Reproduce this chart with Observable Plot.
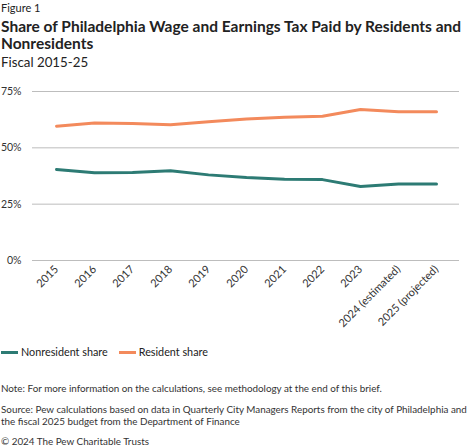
<!DOCTYPE html>
<html>
<head>
<meta charset="utf-8">
<script src="https://cdn.jsdelivr.net/npm/d3@7"></script>
<script src="https://cdn.jsdelivr.net/npm/@observablehq/plot@0.6"></script>
<style>
  body { margin: 0; background: #fff; font-family: Lato, "Noto Sans", sans-serif; color: #222; }
  #wrap { position: relative; width: 474px; height: 447px; overflow: hidden; }
  .abs { position: absolute; left: 1px; white-space: nowrap; }
  #fig { top: 1px; font-size: 11px; line-height: 14px; }
  #title { top: 18px; font-size: 15.5px; line-height: 17px; font-weight: bold; white-space: normal; width: 470px; }
  #sub { top: 54px; font-size: 13.3px; line-height: 16px; }
  #chart { position: absolute; left: 0; top: 80px; }
  #legend { top: 345px; font-size: 10.8px; line-height: 14px; display: flex; gap: 0; }
  .item { display: flex; align-items: center; margin-right: 11px; }
  .sw { width: 17px; height: 3px; margin-right: 3px; display: inline-block; }
  .note { font-size: 9.85px; line-height: 12px; color: #333; white-space: nowrap; }
  #note { top: 382px; }
  #source { top: 403px; }
  #copy { top: 435px; }
</style>
</head>
<body>
<div id="wrap">
  <div id="fig" class="abs">Figure 1</div>
  <div id="title" class="abs">Share of Philadelphia Wage and Earnings Tax Paid by Residents and Nonresidents</div>
  <div id="sub" class="abs">Fiscal 2015-25</div>
  <div id="chart"></div>
  <div id="legend" class="abs"></div>
  <div id="note" class="abs note">Note: For more information on the calculations, see methodology at the end of this brief.</div>
  <div id="source" class="abs note">Source: Pew calculations based on data in Quarterly City Managers Reports from the city of Philadelphia and<br>the fiscal 2025 budget from the Department of Finance</div>
  <div id="copy" class="abs note">© 2024 The Pew Charitable Trusts</div>
</div>
<script>
const years = ["2015","2016","2017","2018","2019","2020","2021","2022","2023","2024 (estimated)","2025 (projected)"];
const nonresident = [40.4, 38.9, 39.1, 39.8, 38.0, 36.8, 36.1, 35.9, 32.8, 33.9, 33.9];
const resident = [59.6, 61.0, 60.8, 60.2, 61.6, 62.8, 63.6, 64.0, 67.0, 66.0, 66.0];
const seriesNames = ["Nonresident share", "Resident share"];
const seriesColors = ["#2d7b74", "#f38a5c"];
const yTicks = [0, 25, 50, 75];

const data = [];
years.forEach((y, i) => {
  data.push({year: y, value: nonresident[i], series: seriesNames[0]});
  data.push({year: y, value: resident[i], series: seriesNames[1]});
});

const chart = Plot.plot({
  width: 474,
  height: 262,
  marginTop: 11,
  marginBottom: 82,
  marginLeft: 32,
  marginRight: 15,
  style: {fontFamily: "Lato, 'Noto Sans', sans-serif", fontSize: "10.5px", color: "#333"},
  x: {type: "point", domain: years, padding: 0.49, label: null},
  y: {domain: [0, 75], label: null},
  color: {domain: seriesNames, range: seriesColors},
  marks: [
    Plot.gridY(yTicks, {stroke: "#bdbdbd", strokeOpacity: 1, strokeWidth: 1}),
    Plot.axisY({ticks: yTicks, tickSize: 0, tickPadding: 11, tickFormat: d => d + "%", label: null}),
    Plot.axisX({tickSize: 0, tickRotate: -45, tickPadding: 7, label: null, fontSize: 11}),
    Plot.line(data, {x: "year", y: "value", z: "series", stroke: "series", strokeWidth: 3, curve: "linear"})
  ]
});
document.getElementById("chart").appendChild(chart);

const legend = document.getElementById("legend");
seriesNames.forEach((n, i) => {
  const it = document.createElement("span");
  it.className = "item";
  it.innerHTML = `<span class="sw" style="background:${seriesColors[i]}"></span>${n}`;
  legend.appendChild(it);
});
</script>
</body>
</html>
